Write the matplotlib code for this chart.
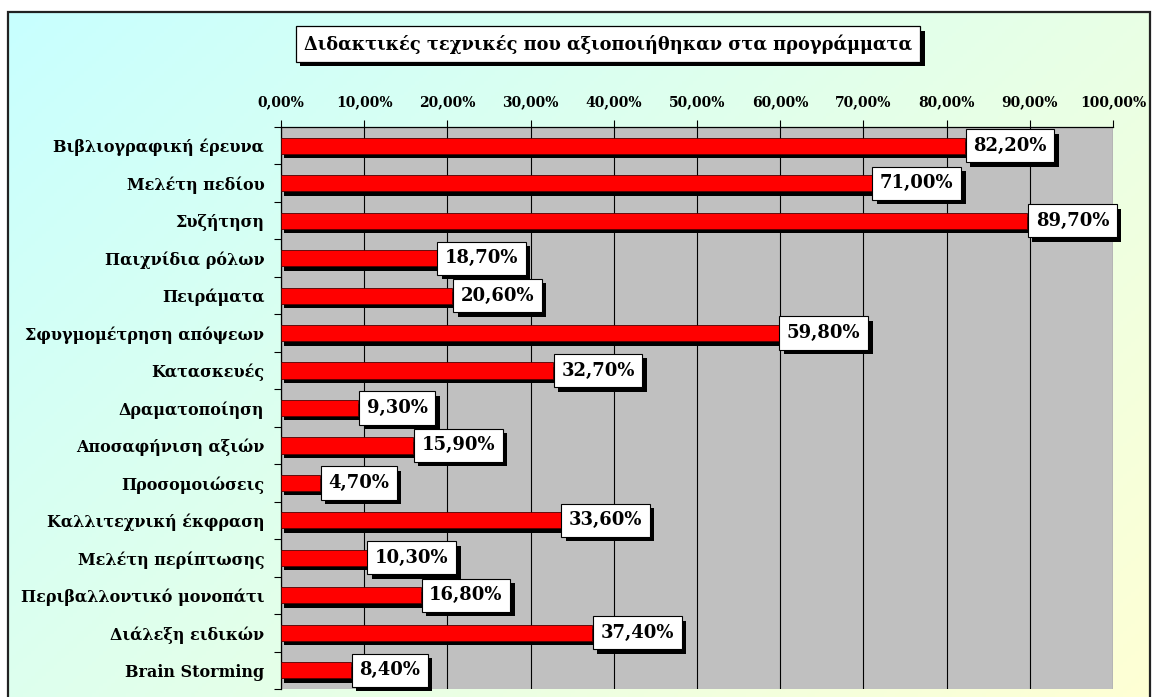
import matplotlib
matplotlib.use("Agg")
import matplotlib.pyplot as plt
import numpy as np
from matplotlib import patheffects as pe
from matplotlib.patches import Rectangle

categories = ["Βιβλιογραφική έρευνα", "Μελέτη πεδίου", "Συζήτηση", "Παιχνίδια ρόλων",
              "Πειράματα", "Σφυγμομέτρηση απόψεων", "Κατασκευές", "Δραματοποίηση",
              "Αποσαφήνιση αξιών", "Προσομοιώσεις", "Καλλιτεχνική έκφραση",
              "Μελέτη περίπτωσης", "Περιβαλλοντικό μονοπάτι", "Διάλεξη ειδικών",
              "Brain Storming"]
values = [82.2, 71.0, 89.7, 18.7, 20.6, 59.8, 32.7, 9.3, 15.9, 4.7, 33.6, 10.3, 16.8, 37.4, 8.4]
value_labels = ["82,20%", "71,00%", "89,70%", "18,70%", "20,60%", "59,80%", "32,70%", "9,30%",
                "15,90%", "4,70%", "33,60%", "10,30%", "16,80%", "37,40%", "8,40%"]
xticks = [0, 10, 20, 30, 40, 50, 60, 70, 80, 90, 100]
xtick_labels = ["0,00%", "10,00%", "20,00%", "30,00%", "40,00%", "50,00%", "60,00%",
                "70,00%", "80,00%", "90,00%", "100,00%"]
title = "Διδακτικές τεχνικές που αξιοποιήθηκαν στα προγράμματα"

SERIF = ["DejaVu Serif", "Liberation Serif"]
W, H = 1154, 697
fig = plt.figure(figsize=(W / 100, H / 100), dpi=100)

# background with gradient and frame
bg = fig.add_axes([0, 0, 1, 1])
bg.set_xlim(0, W)
bg.set_ylim(0, H)
bg.axis("off")
gx = np.linspace(0, 1, 300)
gy = np.linspace(0, 1, 200)
GX, GY = np.meshgrid(gx, gy)
t = (GX * 0.6 + GY * 0.4)
c0 = np.array([200, 255, 255]) / 255
c1 = np.array([255, 255, 212]) / 255
img = c0 + (c1 - c0) * t[..., None]
bg.imshow(img, extent=(8, 1150, -10, H - 12), aspect="auto", origin="upper", zorder=0)
bg.add_patch(Rectangle((8, -10), 1142, H - 12 + 10, fill=False, ec="#222222", lw=1.6, zorder=2))

tt = bg.text(608, H - 44, title, ha="center", va="center", fontsize=12.8, fontweight="bold",
             family=SERIF, zorder=3,
             bbox=dict(boxstyle="square,pad=0.45", fc="white", ec="black", lw=0.9))
tt.get_bbox_patch().set_path_effects([
    pe.SimplePatchShadow(offset=(3.2, -3.2), shadow_rgbFace="black", alpha=1), pe.Normal()])

# main axes
top_px, bot_px = 127, 689
ax = fig.add_axes([281 / W, (H - bot_px) / H, (1113 - 281) / W, (bot_px - top_px) / H])
ax.set_facecolor("#c0c0c0")
n = len(categories)
ypos = np.arange(n)
ax.barh(ypos, values, height=0.43, color="#ff0000", edgecolor="#500000", lw=0.6, zorder=3,
        path_effects=[pe.SimplePatchShadow(offset=(2.5, -3.2), shadow_rgbFace="black", alpha=1),
                      pe.Normal()])
ax.set_xlim(0, 100)
ax.set_ylim(n - 0.5, -0.5)

ax.set_xticks(xticks)
ax.set_xticklabels(xtick_labels, fontsize=10, fontweight="bold", family=SERIF)
ax.xaxis.tick_top()
ax.tick_params(axis="x", direction="out", length=5, width=0.8, pad=8)
ax.grid(axis="x", color="black", lw=0.8, zorder=1)
ax.set_axisbelow(True)

ax.set_yticks(ypos)
ax.set_yticklabels(categories, fontsize=11.5, fontweight="bold", family=SERIF)
ax.tick_params(axis="y", which="major", length=0, pad=12)
ax.set_yticks(np.arange(-0.5, n, 1.0), minor=True)
ax.tick_params(axis="y", which="minor", direction="out", length=5, width=0.8)

for s in ["right", "bottom"]:
    ax.spines[s].set_visible(False)
for s in ["left", "top"]:
    ax.spines[s].set_color("black")
    ax.spines[s].set_linewidth(0.9)

for i, (v, lbl) in enumerate(zip(values, value_labels)):
    a = ax.annotate(lbl, (v, i), xytext=(6, 0), textcoords="offset points", ha="left",
                    va="center", fontsize=13, fontweight="bold", family=SERIF, zorder=5,
                    annotation_clip=False,
                    bbox=dict(boxstyle="square,pad=0.42", fc="white", ec="black", lw=0.8))
    a.get_bbox_patch().set_path_effects([
        pe.SimplePatchShadow(offset=(3.2, -3.2), shadow_rgbFace="black", alpha=1), pe.Normal()])

fig.savefig("out.png", dpi=100)
